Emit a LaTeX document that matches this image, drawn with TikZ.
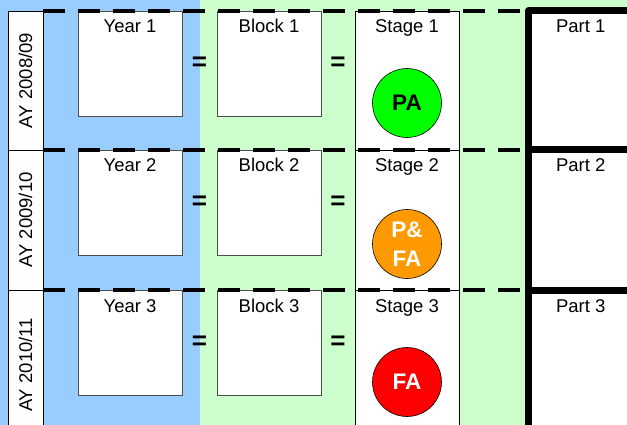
\documentclass[tikz,border=0pt]{standalone}
\usepackage{fontspec}
\setmainfont{Liberation Sans}
\definecolor{yearblue}{RGB}{153,204,255}
\definecolor{blockgreen}{RGB}{204,255,204}
\definecolor{pagreen}{RGB}{0,255,0}
\definecolor{pfaorange}{RGB}{255,153,0}
\definecolor{fared}{RGB}{255,0,0}
\usetikzlibrary{positioning, calc}

\newcommand\boxfont{\fontsize{18.5}{21}\selectfont}
\newcommand\dotfont{\fontsize{22.5}{29}\selectfont\bfseries}

\tikzset{
  slot/.style={draw=black!70, line width=0.8pt, fill=white,
               minimum width=104pt, minimum height=105pt,
               inner sep=0pt, outer sep=0pt},
  aybox/.style={draw, line width=0.6pt, fill=white, anchor=north west,
                minimum width=35pt, inner sep=0pt, outer sep=0pt},
  stagebox/.style={draw, line width=0.6pt, fill=white, anchor=north west,
                   minimum width=104pt, inner sep=0pt, outer sep=0pt},
  partbox/.style={draw, line width=7pt, line join=round, fill=white,
                  anchor=north west, minimum width=104.5pt,
                  inner sep=0pt, outer sep=0pt},
  toplabel/.style={anchor=base, yshift=-22pt, font=\boxfont},
  eqsign/.style={font=\fontsize{26}{26}\selectfont\bfseries, inner sep=0pt},
  stagedot/.style={circle, draw, line width=0.6pt, minimum size=69pt,
                   inner sep=0pt, align=center, font=\dotfont},
  rowline/.style={line width=3.2pt, dash pattern=on 22pt off 13pt}
}

\begin{document}
\begin{tikzpicture}[x=1pt, y=-1pt]
  \useasboundingbox (0,0) rectangle (627,425);
  \clip (0,0) rectangle (627,425);
  % columns
  \fill[yearblue] (0,0) rectangle (200,425);
  \fill[blockgreen] (200,0) rectangle (627,425);

  \foreach \r/\ytop/\ybot/\ayA/\ayB in {1/11/150/2008/09, 2/150/290/2009/10, 3/290/440/2010/11}{
    % academic year tab
    \node [aybox, minimum height=\ybot-\ytop,
           label={[rotate=90, font=\boxfont]center:AY \ayA/\ayB}] (ay\r) at (8,\ytop) {};
    \node [slot, anchor=north west,
           label={[toplabel]north:Year \r}] (yr\r) at (78,\ytop) {};
    \node [slot, right=35pt of yr\r,
           label={[toplabel]north:Block \r}] (blk\r) {};
    \node [stagebox, minimum height=\ybot-\ytop,
           label={[toplabel]north:Stage \r}] (stage\r) at (355,\ytop) {};
    \node [eqsign] (eqa\r) at ($(yr\r.east)!.5!(blk\r.west)$) {=};
    \node [eqsign] (eqb\r) at ($(blk\r.east)!.5!(stage\r.west |- blk\r.east)$) {=};
    \node [partbox, minimum height=\ybot-\ytop,
           label={[toplabel]north:Part \r}] (part\r) at (528.5,\ytop) {};
  }

  % row borders
  \foreach \r in {1,2,3}
    \draw [rowline] (ay\r.north east) -- (part\r.north west);

  % assessment in each stage
  \node [stagedot, fill=pagreen] (dot1) at ([yshift=-92pt]stage1.north) {PA};
  \node [stagedot, fill=pfaorange, text=white] (dot2) at ([yshift=-94pt]stage2.north) {P\&\\FA};
  \node [stagedot, fill=fared, text=white] (dot3) at ([yshift=-92pt]stage3.north) {FA};
\end{tikzpicture}
\end{document}
